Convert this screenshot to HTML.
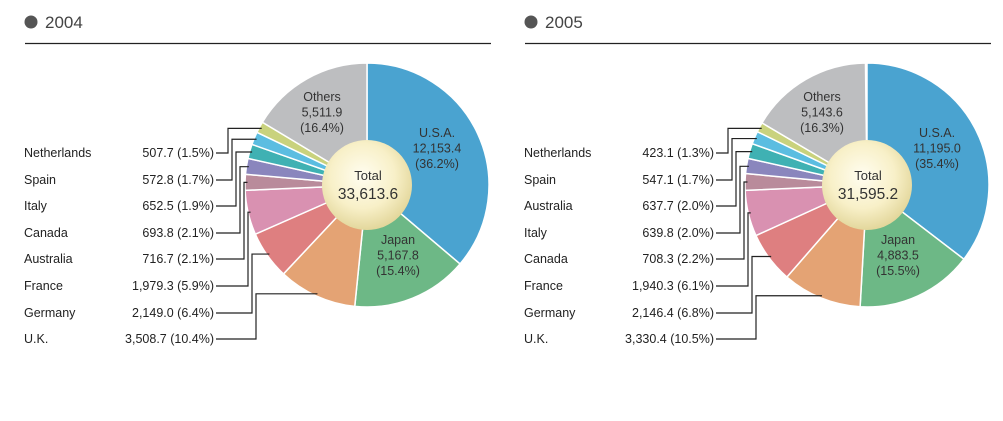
<!DOCTYPE html>
<html><head><meta charset="utf-8"><style>
body{margin:0;background:#fff;}
svg{display:block;font-family:"Liberation Sans",sans-serif;}
</style></head><body>
<svg id="s" width="1003" height="421" viewBox="0 0 1003 421" xmlns="http://www.w3.org/2000/svg">
<defs><radialGradient id="g" cx="0.45" cy="0.4" r="0.6"><stop offset="0" stop-color="#fffdf0"/><stop offset="0.6" stop-color="#f8f0c8"/><stop offset="1" stop-color="#e3d79c"/></radialGradient></defs>
</svg>
<script>
var s=document.getElementById('s'),NS='http://www.w3.org/2000/svg';
function el(t,a,txt){var e=document.createElementNS(NS,t);for(var k in a)e.setAttribute(k,a[k]);if(txt!=null)e.textContent=txt;s.appendChild(e);return e;}
var cols=['#4aa3d0','#6db886','#e4a374','#de7f80','#d991b1','#b98b9b','#8a86bd','#3fb1b3','#5bbde1','#c9d27d','#bdbec0'];
function pie(ox,year,vals,total,labels,big){
  el('circle',{cx:ox+31,cy:22,r:6.5,fill:'#555'});
  el('text',{x:ox+45,y:28,'font-size':17,fill:'#444'},year);
  el('line',{x1:ox+25,y1:43.5,x2:ox+491,y2:43.5,stroke:'#222','stroke-width':1.3});
  var cx=ox+367,cy=185,r=122,a=0,mids=[];
  vals.forEach(function(v,i){
    var a0=a,a1=a+v/100*2*Math.PI;a=a1;
    var x0=cx+r*Math.sin(a0),y0=cy-r*Math.cos(a0),x1=cx+r*Math.sin(a1),y1=cy-r*Math.cos(a1);
    el('path',{d:'M'+cx+','+cy+'L'+x0+','+y0+'A'+r+','+r+' 0 '+((a1-a0)>Math.PI?1:0)+' 1 '+x1+','+y1+'Z',fill:cols[i],stroke:'#fff','stroke-width':1.5});
    mids.push((a0+a1)/2);
  });
  el('circle',{cx:cx,cy:cy,r:45,fill:'url(#g)'});
  el('text',{x:cx+1,y:cy-5,'font-size':13,'text-anchor':'middle',fill:'#333'},'Total');
  el('text',{x:cx+1,y:cy+14,'font-size':15.5,'text-anchor':'middle',fill:'#333'},total);
  function ml(x,y,lines){lines.forEach(function(t,j){el('text',{x:x,y:y+j*15.5,'font-size':12.5,'text-anchor':'middle',fill:'#333'},t);});}
  ml(cx-45,101,big[2]);ml(cx+70,137,big[0]);ml(cx+31,244,big[1]);
  var ys=[153,180,206,233,259,286,313,339];
  labels.forEach(function(L,i){
    var y=ys[i];
    el('text',{x:ox+24,y:y+4,'font-size':12.5,fill:'#222'},L[0]);
    el('text',{x:ox+214,y:y+4,'font-size':12.5,'text-anchor':'end',fill:'#222'},L[1]);
    var si=9-i,m=mids[si],rr=0.98*r;
    var px=cx+rr*Math.sin(m),py=cy-rr*Math.cos(m);
    var ex=ox+228+4*i;
    el('polyline',{points:(ox+216)+','+y+' '+ex+','+y+' '+ex+','+py+' '+px+','+py,fill:'none',stroke:'#222','stroke-width':1.2});
  });
}
pie(0,'2004',[36.2,15.4,10.4,6.4,5.9,2.1,2.1,1.9,1.7,1.5,16.4],'33,613.6',
 [['Netherlands','507.7 (1.5%)'],['Spain','572.8 (1.7%)'],['Italy','652.5 (1.9%)'],['Canada','693.8 (2.1%)'],['Australia','716.7 (2.1%)'],['France','1,979.3 (5.9%)'],['Germany','2,149.0 (6.4%)'],['U.K.','3,508.7 (10.4%)']],
 [['U.S.A.','12,153.4','(36.2%)'],['Japan','5,167.8','(15.4%)'],['Others','5,511.9','(16.4%)']]);
pie(500,'2005',[35.4,15.5,10.5,6.8,6.1,2.2,2.0,2.0,1.7,1.3,16.3],'31,595.2',
 [['Netherlands','423.1 (1.3%)'],['Spain','547.1 (1.7%)'],['Australia','637.7 (2.0%)'],['Italy','639.8 (2.0%)'],['Canada','708.3 (2.2%)'],['France','1,940.3 (6.1%)'],['Germany','2,146.4 (6.8%)'],['U.K.','3,330.4 (10.5%)']],
 [['U.S.A.','11,195.0','(35.4%)'],['Japan','4,883.5','(15.5%)'],['Others','5,143.6','(16.3%)']]);
</script>
</body></html>
